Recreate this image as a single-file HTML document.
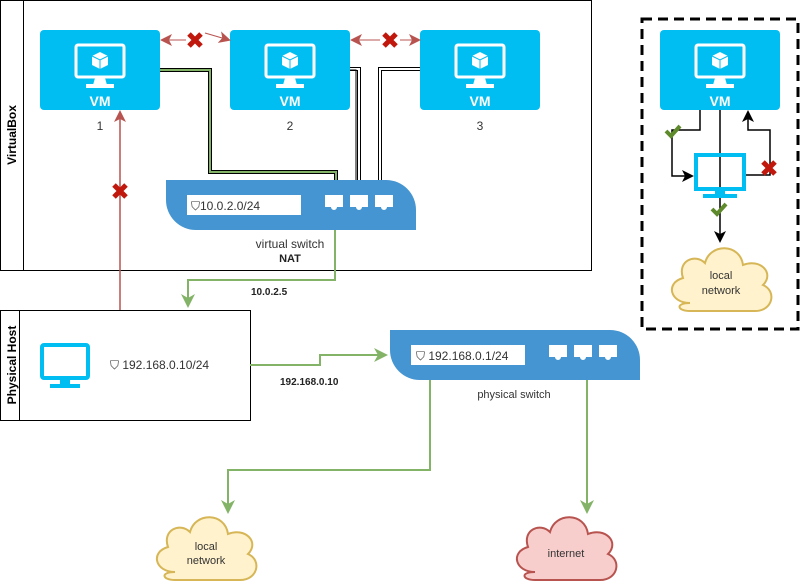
<!DOCTYPE html>
<html><head><meta charset="utf-8"><style>
body{margin:0;background:#fff}
svg{display:block;font-family:"Liberation Sans",Arial,sans-serif}
</style></head><body>
<svg width="803" height="582" viewBox="0 0 803 582" xmlns="http://www.w3.org/2000/svg">
<defs>
<marker id="ag" markerWidth="14" markerHeight="14" refX="12" refY="7" orient="auto" markerUnits="userSpaceOnUse"><path d="M0,0 L14,7 L0,14 L4,7 Z" fill="#82b366"/></marker>
<marker id="ar" markerWidth="12" markerHeight="12" refX="10" refY="6" orient="auto" markerUnits="userSpaceOnUse"><path d="M0,0 L12,6 L0,12 L3,6 Z" fill="#b85450"/></marker>
<marker id="ak" markerWidth="12" markerHeight="12" refX="10" refY="6" orient="auto" markerUnits="userSpaceOnUse"><path d="M0,0 L12,6 L0,12 L3,6 Z" fill="#000"/></marker>
<g id="vm">
<rect x="0" y="0" width="120" height="80" rx="4" fill="#00bef2"/>
<rect x="36" y="15" width="48" height="32" rx="2" fill="none" stroke="#fff" stroke-width="3"/>
<path d="M53,55 L67,55 L65,48 L55,48 Z" fill="#fff"/>
<rect x="46" y="54" width="28" height="4" fill="#fff"/>
<path d="M60,22 L68,26 L68,35 L60,39 L52,35 L52,26 Z" fill="#fff"/>
<path d="M52,26 L60,30 L68,26 M60,30 L60,39" stroke="#00bef2" stroke-width="1" fill="none"/>
<text x="60" y="76" text-anchor="middle" font-size="14" font-weight="bold" fill="#fff">VM</text>
</g>
<g id="xm"><path d="M-6,-6 L6,6 M6,-6 L-6,6" stroke="#c0180c" stroke-width="5"/></g>
<g id="ck"><path d="M-7,0 L-2,5 L7,-5" stroke="#5e8a2b" stroke-width="4" fill="none"/></g>
<g id="port"><path d="M0,0 H18 V12 H12 A3,3 0 0 1 6,12 H0 Z" fill="#fff"/></g>
<path id="cloud" d="M25,60 C5,60 0,40 18,35 C12,18 30,10 40,20 C45,0 75,0 78,22 C95,15 110,30 98,42 C112,48 108,68 90,68 L25,68 C12,68 10,60 25,60 Z"/>
</defs>

<rect x="0.5" y="0.5" width="591" height="270" fill="#fff" stroke="#000"/>
<line x1="23.5" y1="0" x2="23.5" y2="270" stroke="#000"/>
<text transform="translate(16,135) rotate(-90)" text-anchor="middle" font-size="12" font-weight="bold">VirtualBox</text>

<path d="M160,70 H210 V172 H336 V180" fill="none" stroke="#000" stroke-width="4"/>
<path d="M160,70 H210 V172 H336 V180" fill="none" stroke="#82b366" stroke-width="2"/>
<path d="M350,69 H359 V180" fill="none" stroke="#000" stroke-width="4"/>
<path d="M350,69 H359 V180" fill="none" stroke="#fff" stroke-width="2"/>
<path d="M350,70 H356 V180" fill="none" stroke="#000" stroke-width="1"/>
<path d="M420,69 H380 V180" fill="none" stroke="#000" stroke-width="4"/>
<path d="M420,69 H380 V180" fill="none" stroke="#fff" stroke-width="2"/>

<use href="#vm" x="40" y="30"/>
<use href="#vm" x="230" y="30"/>
<use href="#vm" x="420" y="30"/>
<text x="100" y="130" text-anchor="middle" font-size="12" fill="#333">1</text>
<text x="290" y="130" text-anchor="middle" font-size="12" fill="#333">2</text>
<text x="480" y="130" text-anchor="middle" font-size="12" fill="#333">3</text>

<line x1="186" y1="40" x2="162" y2="40" stroke="#b85450" marker-end="url(#ar)"/>
<line x1="205" y1="33" x2="229" y2="40" stroke="#b85450" marker-end="url(#ar)"/>
<use href="#xm" x="195" y="40"/>
<line x1="380" y1="40" x2="352" y2="40" stroke="#b85450" marker-end="url(#ar)"/>
<line x1="400" y1="40" x2="419" y2="40" stroke="#b85450" marker-end="url(#ar)"/>
<use href="#xm" x="390" y="40"/>

<path d="M166,180 H386 A30,30 0 0 1 416,210 V230 H196 A30,30 0 0 1 166,200 Z" fill="#4495d1"/>
<rect x="187" y="195" width="114" height="20" fill="#fff"/>
<text x="191" y="210" font-size="12" fill="#333">⛉10.0.2.0/24</text>
<use href="#port" x="325" y="195"/>
<use href="#port" x="350" y="195"/>
<use href="#port" x="375" y="195"/>
<text x="290" y="248" text-anchor="middle" font-size="12" fill="#333">virtual switch</text>
<text x="290" y="262" text-anchor="middle" font-size="11" font-weight="bold" fill="#222">NAT</text>

<path d="M335,230 V280 H188 V306" fill="none" stroke="#82b366" stroke-width="2" marker-end="url(#ag)"/>
<text x="251" y="295" font-size="10" font-weight="bold" fill="#222">10.0.2.5</text>

<line x1="120" y1="310" x2="120" y2="112" stroke="#b85450" stroke-width="1.5" marker-end="url(#ar)"/>
<use href="#xm" x="120" y="191"/>

<rect x="0.5" y="310.5" width="250" height="110" fill="#fff" stroke="#000"/>
<line x1="19.5" y1="310" x2="19.5" y2="420" stroke="#000"/>
<text transform="translate(16,365) rotate(-90)" text-anchor="middle" font-size="12" font-weight="bold">Physical Host</text>
<rect x="42" y="345" width="46" height="33" rx="2" fill="none" stroke="#00bef2" stroke-width="4"/>
<rect x="60" y="378" width="10" height="6" fill="#00bef2"/>
<rect x="50" y="384" width="30" height="4" fill="#00bef2"/>
<text x="110" y="369" font-size="12" fill="#333">⛉ 192.168.0.10/24</text>

<path d="M250,365 H320 V355 H386" fill="none" stroke="#82b366" stroke-width="2" marker-end="url(#ag)"/>
<text x="280" y="385" font-size="10" font-weight="bold" fill="#222">192.168.0.10</text>

<path d="M390,330 H610 A30,30 0 0 1 640,360 V380 H420 A30,30 0 0 1 390,350 Z" fill="#4495d1"/>
<rect x="411" y="345" width="114" height="20" fill="#fff"/>
<text x="416" y="360" font-size="12" fill="#333">⛉ 192.168.0.1/24</text>
<use href="#port" x="549" y="345"/>
<use href="#port" x="574" y="345"/>
<use href="#port" x="599" y="345"/>
<text x="514" y="398" text-anchor="middle" font-size="11" fill="#333">physical switch</text>

<path d="M430,380 V470 H228 V512" fill="none" stroke="#82b366" stroke-width="2" marker-end="url(#ag)"/>
<path d="M587,380 V512" fill="none" stroke="#82b366" stroke-width="2" marker-end="url(#ag)"/>

<use href="#cloud" transform="translate(150,512)" fill="#fff2cc" stroke="#d6b656" stroke-width="2"/>
<text x="206" y="550" text-anchor="middle" font-size="11" fill="#333">local</text>
<text x="206" y="564" text-anchor="middle" font-size="11" fill="#333">network</text>
<use href="#cloud" transform="translate(510,512)" fill="#f8cecc" stroke="#b85450" stroke-width="2"/>
<text x="566" y="557" text-anchor="middle" font-size="11" fill="#333">internet</text>

<rect x="642" y="19" width="156" height="310" fill="none" stroke="#000" stroke-width="3" stroke-dasharray="10,6"/>
<use href="#vm" x="660" y="30"/>
<path d="M700,110 V130 H672 V176 H692" fill="none" stroke="#000" stroke-width="1.5" marker-end="url(#ak)"/>
<path d="M720,110 V200" stroke="#000" stroke-width="1.5"/>
<path d="M746,175 H770 V130 H748 V112" fill="none" stroke="#000" stroke-width="1.5" marker-end="url(#ak)"/>
<rect x="696" y="155" width="48" height="34" fill="none" stroke="#00bef2" stroke-width="4"/>
<rect x="715" y="189" width="10" height="5" fill="#00bef2"/>
<rect x="703" y="194" width="34" height="4" fill="#00bef2"/>
<line x1="720" y1="200" x2="720" y2="241" stroke="#000" stroke-width="1.5" marker-end="url(#ak)"/>
<use href="#ck" x="673" y="131"/>
<use href="#ck" x="719" y="209"/>
<use href="#xm" x="769" y="168"/>
<use href="#cloud" transform="translate(665,243)" fill="#fff2cc" stroke="#d6b656" stroke-width="2"/>
<text x="721" y="279" text-anchor="middle" font-size="11" fill="#333">local</text>
<text x="721" y="294" text-anchor="middle" font-size="11" fill="#333">network</text>
</svg>
</body></html>
